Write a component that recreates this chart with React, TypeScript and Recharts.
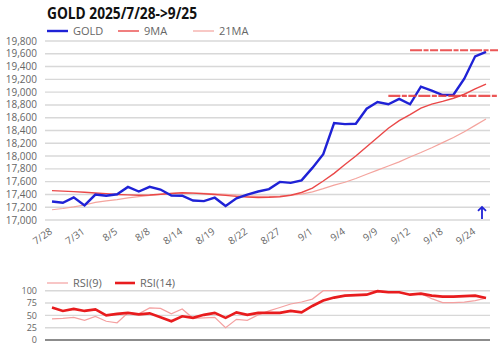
import React from 'react';
import { LineChart, Line, XAxis, YAxis, CartesianGrid, ReferenceLine, ReferenceDot, Legend } from 'recharts';

const dates = ['7/28','7/29','7/30','7/31','8/1','8/4','8/5','8/6','8/7','8/8','8/12','8/13','8/14','8/15','8/18','8/19','8/20','8/21','8/22','8/25','8/26','8/27','8/28','8/29','9/1','9/2','9/3','9/4','9/5','9/8','9/9','9/10','9/11','9/12','9/16','9/17','9/18','9/19','9/22','9/24','9/25'];

const gold = [17290,17270,17355,17228,17398,17380,17402,17518,17446,17518,17476,17383,17380,17305,17295,17349,17218,17339,17397,17446,17484,17596,17581,17620,17815,18030,18515,18500,18505,18740,18845,18810,18895,18810,19085,19025,18955,18960,19210,19560,19630];

const ma9 = [17460,17452,17444,17435,17422,17412,17400,17393,17388,17390,17402,17415,17426,17420,17411,17400,17385,17370,17360,17353,17355,17363,17387,17430,17500,17610,17730,17868,18000,18145,18290,18435,18555,18650,18750,18812,18856,18905,18967,19050,19127];

const ma21 = [17160,17180,17205,17235,17275,17300,17320,17345,17365,17385,17400,17415,17422,17420,17415,17410,17400,17390,17378,17370,17370,17375,17390,17405,17440,17490,17545,17590,17650,17715,17780,17845,17910,17985,18055,18130,18210,18290,18380,18480,18580];

const rsi9 = [43,44,46,40,48,38,35,55,53,65,64,53,63,44,45,46,25,42,40,51,59,66,73,77,83,100,100,100,100,100,100,98,97,92,94,84,76,76,77,80,85];

const rsi14 = [66,59,63,59,62,50,53,55,52,54,46,38,48,45,51,55,45,56,51,55,55,55,59,56,69,80,86,90,91,92,99,97,97,92,94,90,88,88,89,90,85];

const xTicks = ['7/28','7/31','8/5','8/8','8/14','8/19','8/22','8/27','9/1','9/4','9/9','9/12','9/18','9/24'];
const priceTicks = [17000,17200,17400,17600,17800,18000,18200,18400,18600,18800,19000,19200,19400,19600,19800];
const rsiTicks = [0,25,50,75,100];

const titleText = 'GOLD 2025/7/28->9/25';
const resistanceHigh = 19655;
const resistanceLow = 18943;
const arrowLevel = 17110;

const mainData = dates.map((d, i) => ({ date: d, gold: gold[i], ma9: ma9[i], ma21: ma21[i] }));
const rsiData = dates.map((d, i) => ({ date: d, rsi9: rsi9[i], rsi14: rsi14[i] }));

const FONT = '"Open Sans", "Noto Sans", sans-serif';
const TEXT = '#666666';

const mainSeries = [
  { key: 'gold', name: 'GOLD', color: '#1f22d6', width: 2.4, legendWidth: 71 },
  { key: 'ma9', name: '9MA', color: '#ea4848', width: 1.4, legendWidth: 75 },
  { key: 'ma21', name: '21MA', color: '#f4a49e', width: 1.2, legendWidth: 60 },
];
const rsiSeries = [
  { key: 'rsi9', name: 'RSI(9)', color: '#f4a0a0', width: 1.2, legendWidth: 68 },
  { key: 'rsi14', name: 'RSI(14)', color: '#e81c1e', width: 2.6, legendWidth: 60 },
];

const XTick = (props: any) => {
  const { x, y, payload } = props;
  return (
    <g transform={`translate(${x + 1},${y + 5})`}>
      <text textAnchor="end" transform="rotate(-35)" fontSize={10} fill={TEXT} fontFamily={FONT}>
        {payload.value}
      </text>
    </g>
  );
};

const legendContent = (series: any[]) => () => (
  <div style={{ display: 'flex', fontFamily: FONT, fontSize: 11, color: TEXT, lineHeight: '14px' }}>
    {series.map((s) => (
      <div key={s.key} style={{ display: 'flex', alignItems: 'center', width: s.legendWidth }}>
        <svg width={21} height={6} style={{ display: 'block' }}>
          <line x1={0} y1={3} x2={21} y2={3} stroke={s.color} strokeWidth={s.width} />
        </svg>
        <span style={{ marginLeft: 5 }}>{s.name}</span>
      </div>
    ))}
  </div>
);

const markerShape = (p: any) => (
  <line x1={p.x1} y1={p.y1} x2={p.x2 + 12} y2={p.y2} stroke="#e83a3a" strokeWidth={2.2}
    strokeDasharray="12 1.5 5 1.5 8 2" strokeOpacity={0.85} />
);

const arrowShape = (p: any) => {
  const cx = p.cx - 4;
  const cy = p.cy;
  return (
    <g stroke="#1f22d6" strokeWidth={1.8} fill="none">
      <line x1={cx} y1={cy - 6} x2={cx} y2={cy + 6} />
      <polyline points={`${cx - 4},${cy - 2} ${cx},${cy - 6} ${cx + 4},${cy - 2}`} />
    </g>
  );
};

export default function App() {
  return (
    <div style={{ position: 'absolute', left: 0, top: 0, width: 500, height: 361, background: '#fff', fontFamily: FONT }}>
      <svg width={500} height={24} style={{ position: 'absolute', left: 0, top: 0 }}>
        <text x={47} y={19} fontSize={16} fontWeight={700} fill="#111" fontFamily={FONT}
          textLength={150} lengthAdjust="spacingAndGlyphs">{titleText}</text>
      </svg>
      <div style={{ position: 'absolute', left: 0, top: 0 }}>
        <LineChart width={500} height={270} data={mainData} margin={{ top: 41, right: 10, bottom: 0, left: 0 }}>
          <CartesianGrid vertical={false} stroke="#d8d8d8" strokeWidth={1.4} />
          <XAxis dataKey="date" ticks={xTicks} interval={0} tick={<XTick />} axisLine={false} tickLine={false}
            height={36} padding={{ left: 7, right: 4 }} />
          <YAxis domain={[17000, 19800]} ticks={priceTicks} interval={0} width={45} axisLine={false} tickLine={false}
            tick={{ fontSize: 10, fill: TEXT, fontFamily: FONT }}
            tickFormatter={(v: number) => v.toLocaleString('en-US')} />
          <Legend content={legendContent(mainSeries)}
            wrapperStyle={{ position: 'absolute', top: 24, left: 47, width: 300, height: 14 }} />
          {[...mainSeries].reverse().map((s) => (
            <Line key={s.key} type="linear" dataKey={s.key} name={s.name} stroke={s.color} strokeWidth={s.width}
              dot={false} activeDot={false} isAnimationActive={false} />
          ))}
          <ReferenceLine segment={[{ x: '9/12', y: resistanceHigh }, { x: '9/25', y: resistanceHigh }]}
            ifOverflow="visible" shape={markerShape} />
          <ReferenceLine segment={[{ x: '9/10', y: resistanceLow }, { x: '9/25', y: resistanceLow }]}
            ifOverflow="visible" shape={markerShape} />
          <ReferenceDot x="9/25" y={arrowLevel} r={0} shape={arrowShape} />
        </LineChart>
      </div>
      <div style={{ position: 'absolute', left: 0, top: 270 }}>
        <LineChart width={500} height={91} data={rsiData} margin={{ top: 20.7, right: 10, bottom: 0, left: 0 }}>
          <CartesianGrid vertical={false} stroke="#d8d8d8" strokeWidth={1.4} />
          <XAxis dataKey="date" tick={false} tickLine={false} height={7} padding={{ left: 7, right: 4 }}
            axisLine={{ stroke: '#8c8c8c', strokeWidth: 2.2 }} />
          <YAxis domain={[0, 100]} ticks={rsiTicks} interval={0} width={45} axisLine={false} tickLine={false}
            tick={{ fontSize: 9, fill: TEXT, fontFamily: FONT }} />
          <Legend content={legendContent(rsiSeries)}
            wrapperStyle={{ position: 'absolute', top: 6, left: 47, width: 300, height: 14 }} />
          {rsiSeries.map((s) => (
            <Line key={s.key} type="linear" dataKey={s.key} name={s.name} stroke={s.color} strokeWidth={s.width}
              dot={false} activeDot={false} isAnimationActive={false} />
          ))}
        </LineChart>
      </div>
    </div>
  );
}
